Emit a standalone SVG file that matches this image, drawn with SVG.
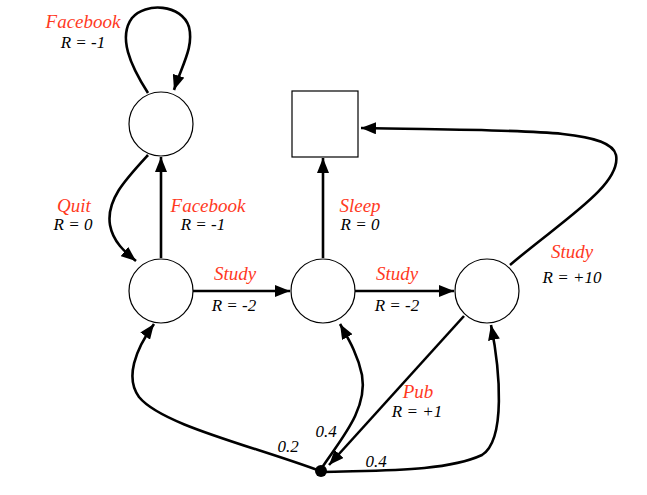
<svg xmlns="http://www.w3.org/2000/svg" width="647" height="495" viewBox="0 0 647 495">
<style>
.node{fill:#fff;stroke:#000;stroke-width:1.2}
.edge{fill:none;stroke:#000;stroke-width:2.6}
.act{font-family:"Liberation Serif","Times New Roman",serif;font-style:italic;font-size:19px;fill:#ff3a1f;text-anchor:middle}
.rw{font-family:"Liberation Serif","Times New Roman",serif;font-style:italic;font-size:17px;fill:#000;text-anchor:middle}
</style>
<defs>
<marker id="ah" markerUnits="userSpaceOnUse" markerWidth="16" markerHeight="12" refX="15" refY="6" orient="auto">
<path d="M0,0 L15,6 L0,12 z" fill="#000"/>
</marker>
</defs>
<rect width="647" height="495" fill="#fff"/>
<g id="edges">
<path class="edge" d="M148,93 C130,65 118,37 132,18 C145,2 182,4 189,27 C194,47 182,65 174,90" marker-end="url(#ah)"/>
<path class="edge" d="M148,155 C125,180 106,200 110,225 C113,242 125,252 136,261" marker-end="url(#ah)"/>
<path class="edge" d="M161,258 L161,157" marker-end="url(#ah)"/>
<path class="edge" d="M193,291 L290,291" marker-end="url(#ah)"/>
<path class="edge" d="M355,291 L454,291" marker-end="url(#ah)"/>
<path class="edge" d="M323,258 L323,158" marker-end="url(#ah)"/>
<path class="edge" d="M510,265 C560,222 622,185 616,155 C610,128 520,131 361,128" marker-end="url(#ah)"/>
<path class="edge" d="M464,316 L329,465" marker-end="url(#ah)"/>
<path class="edge" d="M320,471 C250,445 162,425 139,397 C125,378 135,350 154,324" marker-end="url(#ah)"/>
<path class="edge" d="M321,469 C340,440 368,410 362,375 C358,355 349,340 340,324" marker-end="url(#ah)"/>
<path class="edge" d="M322,472 C380,470 445,472 482,455 C506,440 500,370 491,325" marker-end="url(#ah)"/>
</g>
<g id="fb"><circle class="node" cx="161" cy="124" r="32"/></g>
<g id="c1"><circle class="node" cx="161" cy="291" r="32"/></g>
<g id="c2"><circle class="node" cx="323" cy="291" r="32"/></g>
<g id="c3"><circle class="node" cx="487" cy="291" r="32"/></g>
<g id="sleep"><rect class="node" x="292" y="91" width="66" height="66"/></g>
<g id="chance"><circle cx="321" cy="471" r="6" fill="#000"/></g>
<g id="labels">
<text class="act" x="83" y="28">Facebook</text>
<text class="rw" x="83" y="48">R = -1</text>
<text class="act" x="74" y="212">Quit</text>
<text class="rw" x="73" y="230">R = 0</text>
<text class="act" x="208" y="212">Facebook</text>
<text class="rw" x="203" y="230">R = -1</text>
<text class="act" x="235" y="280">Study</text>
<text class="rw" x="234" y="311">R = -2</text>
<text class="act" x="360" y="212">Sleep</text>
<text class="rw" x="360" y="230">R = 0</text>
<text class="act" x="397" y="280">Study</text>
<text class="rw" x="397" y="311">R = -2</text>
<text class="act" x="572" y="258">Study</text>
<text class="rw" x="572" y="283">R = +10</text>
<text class="act" x="418" y="398">Pub</text>
<text class="rw" x="417" y="417">R = +1</text>
<text class="rw" x="288" y="452">0.2</text>
<text class="rw" x="326" y="437">0.4</text>
<text class="rw" x="376" y="467">0.4</text>
</g>
</svg>
